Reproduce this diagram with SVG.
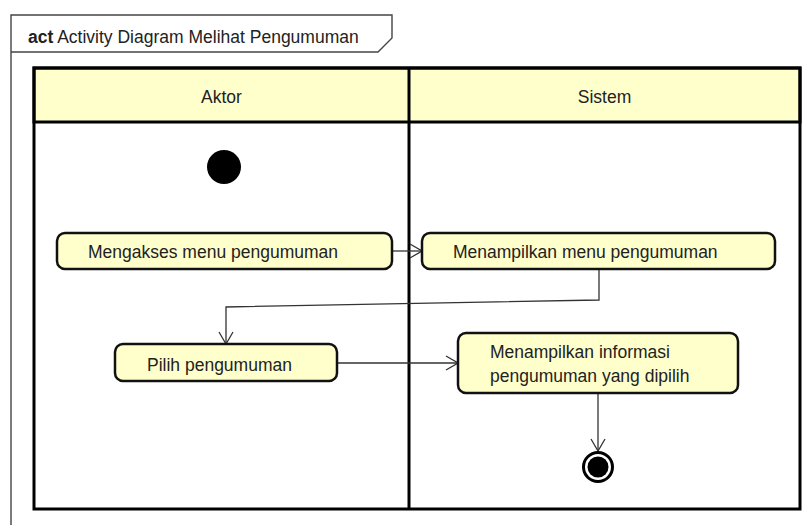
<svg xmlns="http://www.w3.org/2000/svg" width="808" height="525" viewBox="0 0 808 525">
  <defs>
    <marker id="open" viewBox="0 0 14 16" refX="13" refY="8" markerWidth="14" markerHeight="16" markerUnits="userSpaceOnUse" orient="auto">
      <path d="M1,1 L13,8 L1,15" fill="none" stroke="#333" stroke-width="1.3"/>
    </marker>
  </defs>
  <style>
    text { font-family: "Liberation Sans", Arial, sans-serif; font-size: 17.5px; fill: #222; }
    .frame { fill: none; stroke: #444; stroke-width: 1.4; }
    .lane { fill: none; stroke: #000; stroke-width: 3; }
    .head { fill: #ffffcc; stroke: #000; stroke-width: 3; }
    .action { fill: #ffffcc; stroke: #111; stroke-width: 2.5; }
    .flow { fill: none; stroke: #333; stroke-width: 1.3; marker-end: url(#open); }
  </style>
  <rect width="808" height="525" fill="#fff"/>

  <!-- diagram frame with name tab -->
  <g id="frame">
    <path class="frame" d="M11,525 L11,15 L392,15 L392,38 L378,52 L11,52"/>
    <text x="28" y="43"><tspan font-weight="bold">act</tspan> Activity Diagram Melihat Pengumuman</text>
  </g>

  <!-- swimlanes -->
  <g id="lanes">
    <rect class="head" x="34" y="68" width="766" height="54"/>
    <rect class="lane" x="34" y="68" width="766" height="441"/>
    <line class="lane" x1="409" y1="68" x2="409" y2="509"/>
    <text x="221.5" y="103" text-anchor="middle">Aktor</text>
    <text x="604.5" y="103" text-anchor="middle">Sistem</text>
  </g>

  <!-- control flows -->
  <g id="connectors">
    <path class="flow" d="M392,251 L422,251"/>
    <path class="flow" d="M599,269 L599,300 L226,307 L226,344"/>
    <path class="flow" d="M337,363 L458,363"/>
    <path class="flow" d="M598,393 L598,451"/>
  </g>

  <g id="start">
    <circle cx="224" cy="167" r="17" fill="#000"/>
  </g>

  <g id="akses-menu">
    <rect class="action" x="57" y="233" width="335" height="36" rx="8"/>
    <text x="88" y="258">Mengakses menu pengumuman</text>
  </g>

  <g id="tampil-menu">
    <rect class="action" x="422" y="233" width="353" height="36" rx="8"/>
    <text x="453" y="258">Menampilkan menu pengumuman</text>
  </g>

  <g id="pilih">
    <rect class="action" x="115" y="344" width="222" height="37" rx="8"/>
    <text x="147" y="371">Pilih pengumuman</text>
  </g>

  <g id="tampil-info">
    <rect class="action" x="458" y="333" width="280" height="60" rx="8"/>
    <text x="490" y="358">Menampilkan informasi</text>
    <text x="490" y="382">pengumuman yang dipilih</text>
  </g>

  <g id="end">
    <circle cx="598" cy="467" r="14.5" fill="#fff" stroke="#000" stroke-width="3"/>
    <circle cx="598" cy="467" r="10.5" fill="#000"/>
  </g>
</svg>
